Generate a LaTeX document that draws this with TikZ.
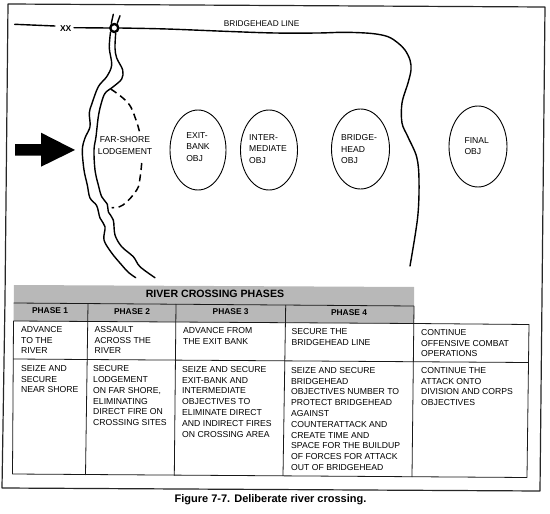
\documentclass[tikz,border=0pt]{standalone}
\usepackage{fontspec}
\usetikzlibrary{shapes.geometric}
\setmainfont{Liberation Sans}
\begin{document}
\begin{tikzpicture}[x=1pt,y=-1pt,line join=round,
  heavy/.style={line width=1.4pt,line cap=round},
  rule/.style={line width=0.8pt,black!90},
  framed/.style={line width=1.2pt,black!85},
  dashline/.style={line width=1.5pt,dash pattern=on 7pt off 4.5pt},
  obj/.style={draw,ellipse,line width=0.9pt},
  bodytext/.style={inner sep=0pt,align=left,font=\fontsize{8.6}{11.5}\selectfont},
  celltext/.style={inner sep=0pt,anchor=north west,align=left,font=\fontsize{8.65}{10.8}\selectfont},
  headtext/.style={inner sep=0pt,font=\bfseries\fontsize{8.4}{10}\selectfont},
  shade/.style={fill=black!28,draw=none}]
\useasboundingbox (0,0) rectangle (550,514);
\fill[white] (0,0) rectangle (550,514);
% outer frame
\draw[framed] (8,4) -- (545,7) -- (540,491) -- (2,488) -- (5,300) -- cycle;
% table corners
\coordinate (tl) at (14,285); \coordinate (tr) at (414,287);
\coordinate (hl) at (13.7,303); \coordinate (hr) at (414,306);
\coordinate (sl) at (13.5,321); \coordinate (sm) at (414,323.5); \coordinate (sr) at (529,324.5);
\coordinate (rl) at (13.2,359); \coordinate (rr) at (528,362.5);
\coordinate (bl) at (12.5,474); \coordinate (bm) at (412,477); \coordinate (br) at (527,477.5);
\fill[shade] (tl) -- (tr) -- (sm) -- (sl) -- cycle;
\draw[rule] (hl) -- (hr);
\draw[rule] (sl) -- (sm) -- (sr) -- (br) -- (bl) -- cycle;
\draw[rule] (rl) -- (rr);
\draw[rule] (88,303.5) -- (85.5,475);
\draw[rule] (176,304) -- (174.3,475.5);
\draw[rule] (285.7,305) -- (283,476);
\draw[rule] (414,306) -- (bm);
% table text
\node[inner sep=0pt,font=\bfseries\fontsize{10.6}{12}\selectfont] (title) at (215,294) {RIVER CROSSING PHASES};
\node[headtext] (ph1) at (50,311) {PHASE 1};
\node[headtext] (ph2) at (132,311.5) {PHASE 2};
\node[headtext] (ph3) at (230.7,312) {PHASE 3};
\node[headtext] (ph4) at (349,313) {PHASE 4};
\node[celltext] (a1) at (21,326) {ADVANCE\\TO THE\\RIVER};
\node[celltext] (a2) at (94.5,326) {ASSAULT\\ACROSS THE\\RIVER};
\node[celltext] (a3) at (183,327) {ADVANCE FROM\\THE EXIT BANK};
\node[celltext] (a4) at (291.5,328) {SECURE THE\\BRIDGEHEAD LINE};
\node[celltext] (a5) at (421,329) {CONTINUE\\OFFENSIVE COMBAT\\OPERATIONS};
\node[celltext] (b1) at (21,365) {SEIZE AND\\SECURE\\NEAR SHORE};
\node[celltext] (b2) at (93,365.5) {SECURE\\LODGEMENT\\ON FAR SHORE,\\ELIMINATING\\DIRECT FIRE ON\\CROSSING SITES};
\node[celltext] (b3) at (182,366) {SEIZE AND SECURE\\EXIT-BANK AND\\INTERMEDIATE\\OBJECTIVES TO\\ELIMINATE DIRECT\\AND INDIRECT FIRES\\ON CROSSING AREA};
\node[celltext] (b4) at (291,367) {SEIZE AND SECURE\\BRIDGEHEAD\\OBJECTIVES NUMBER TO\\PROTECT BRIDGEHEAD\\AGAINST\\COUNTERATTACK AND\\CREATE TIME AND\\SPACE FOR THE BUILDUP\\OF FORCES FOR ATTACK\\OUT OF BRIDGEHEAD};
\node[celltext] (b5) at (421,367) {CONTINUE THE\\ATTACK ONTO\\DIVISION AND CORPS\\OBJECTIVES};
\node[inner sep=0pt,font=\bfseries\fontsize{11}{13}\selectfont] (cap) at (270.5,500) {Figure 7-7. Deliberate river crossing.};
% objectives
\node[obj,minimum width=56pt,minimum height=80pt] (exit) at (198,150) {};
\node[obj,minimum width=57pt,minimum height=80pt] (inter) at (269,150) {};
\node[obj,minimum width=58pt,minimum height=80pt] (bobj) at (360.5,149) {};
\node[obj,minimum width=58pt,minimum height=81pt] (fobj) at (478,146.5) {};
\node[bodytext] (exitt) at (198,147) {EXIT-\\BANK\\OBJ};
\node[bodytext] (intert) at (268,149) {INTER-\\MEDIATE\\OBJ};
\node[bodytext] (bobjt) at (359,149.5) {BRIDGE-\\HEAD\\OBJ};
\node[bodytext] (fobjt) at (476.7,146) {FINAL\\OBJ};
\node[bodytext,align=center] (far) at (125,145.5) {FAR-SHORE\\LODGEMENT};
% attack arrow
\fill (15,144) -- (41,144) -- (41,132.7) -- (75,150) -- (41,166.7) -- (41,155.7) -- (15,155.7) -- cycle;
% bridgehead line
\coordinate (bl0) at (14.7,24.3);
\node[inner sep=0pt,font=\bfseries\fontsize{8.5}{10}\selectfont] (xx) at (65.7,28.3) {XX};
\node[draw,circle,line width=2.4pt,minimum size=8pt,inner sep=0pt] (cross) at (114.3,28) {};
\draw[heavy] (bl0) -- (55,26);
\draw[heavy] (74,27.7) -- (cross.west);
\draw[heavy] plot[smooth,tension=.55] coordinates {(cross.east) (167,29) (230,31.5) (275,33) (318,33) (345,32.3) (372,33.5) (388,36.7) (398,43) (405,50) (410,60) (411,70) (408,83) (402,103) (402,123) (408,137) (416.7,157) (419,180) (417.7,217) (410,266)};
\node[inner sep=0pt,font=\fontsize{8.3}{10}\selectfont] (bline) at (261.7,24) {BRIDGEHEAD LINE};
% river banks
\draw[heavy] (113.3,14.3) -- (111.3,23.3);
\draw[heavy] (120,15.7) -- (117.3,23.3);
\draw[heavy] plot[smooth,tension=.55] coordinates {(110.5,32) (109.3,48) (111.7,65) (106.7,76.7) (98.3,86.7) (91.7,104.3) (89.3,113) (90,126.7) (85,138) (82.3,150) (84,170) (87.3,185) (90,198) (96.7,205.7) (100,218) (105,226.7) (104,240) (111.7,253) (121.7,265) (128.3,272.3) (135.7,277.7)};
\draw[heavy] plot[smooth,tension=.55] coordinates {(115.7,33) (115,48) (116.7,58) (122.7,70) (121.7,79) (113.3,86.7) (105,93.3) (101,104.3) (98.3,116.7) (96,136.7) (94,150) (95,170) (98.3,185) (101.7,196.7) (107.3,204.3) (108.3,211.7) (113.3,220) (115,235) (121.7,246.7) (133.3,256.7) (140,266.7) (155,277.7)};
% far-shore lodgement limit
\draw[dashline] plot[smooth,tension=.7] coordinates {(110.7,89) (128,103) (136,120) (140,134)};
\draw[dashline] plot[smooth,tension=.7] coordinates {(141.7,163) (140,178) (136.7,190) (123,205) (111.7,207.7)};
\end{tikzpicture}
\end{document}
